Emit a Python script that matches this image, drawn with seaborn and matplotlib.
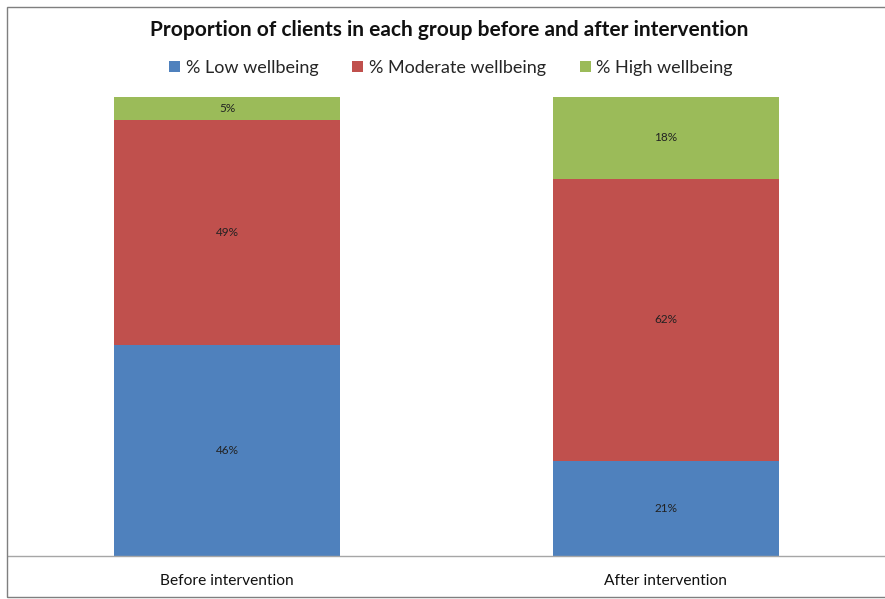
import matplotlib
matplotlib.use("Agg")
import matplotlib.pyplot as plt
import seaborn as sns
import pandas as pd
import numpy as np
from matplotlib.patches import Patch, Rectangle

groups = ["Before intervention", "After intervention"]
series = ["% Low wellbeing", "% Moderate wellbeing", "% High wellbeing"]
low = [46, 21]
moderate = [49, 62]
high = [5, 18]
colors = ["#4F81BD", "#C0504D", "#9BBB59"]

sns.set_theme(style="white")
plt.rcParams['font.family'] = ['Lato', 'DejaVu Sans']

vals = np.array([low, moderate, high], dtype=float)
shares = vals / vals.sum(axis=0) * 100
cum = np.cumsum(shares, axis=0)

fig = plt.figure(figsize=(8.85, 5.99), dpi=100)
ax = fig.add_axes([8/885, (599-556)/599, 877/885, (556-97)/599])

# draw back to front: cumulative totals
for i in range(2, -1, -1):
    df = pd.DataFrame({"group": groups, "value": cum[i]})
    sns.barplot(data=df, x="group", y="value", color=colors[i], width=0.515,
                saturation=1, ax=ax, linewidth=0, order=groups)

for i in range(3):
    for j in range(2):
        bottom = cum[i][j] - shares[i][j]
        ax.text(j, bottom + shares[i][j] / 2, f"{vals[i][j]:.0f}%",
                ha="center", va="center", fontsize=8.5, color="#222222")

ax.set_xlim(-0.5, 1.5)
ax.set_ylim(0, 100)
ax.set_xlabel("")
ax.set_ylabel("")
ax.set_yticks([])
for s in ["top", "right", "left"]:
    ax.spines[s].set_visible(False)
ax.spines["bottom"].set_color("#A6A6A6")
ax.spines["bottom"].set_linewidth(1)
ax.tick_params(axis="x", length=0, labelsize=11.2, pad=13, colors="#111111")

fig.text(449/885, 1 - 30/599, "Proportion of clients in each group before and after intervention",
         ha="center", va="center", fontsize=15, fontweight="bold", color="#111111")

handles = [Patch(facecolor=c, edgecolor="none", label=s) for c, s in zip(colors, series)]
fig.legend(handles=handles, loc="center", bbox_to_anchor=(451/885, 1 - 68/599), ncol=3,
           frameon=False, fontsize=13, handlelength=0.6, handleheight=0.6,
           handletextpad=0.3, columnspacing=1.9)

# outer chart border
fig.patches.append(Rectangle((7/885, 1 - 597/599), 1.0, (597-7)/599, transform=fig.transFigure,
                             fill=False, edgecolor="#7F7F7F", linewidth=1))

fig.savefig("out.png", dpi=100)
